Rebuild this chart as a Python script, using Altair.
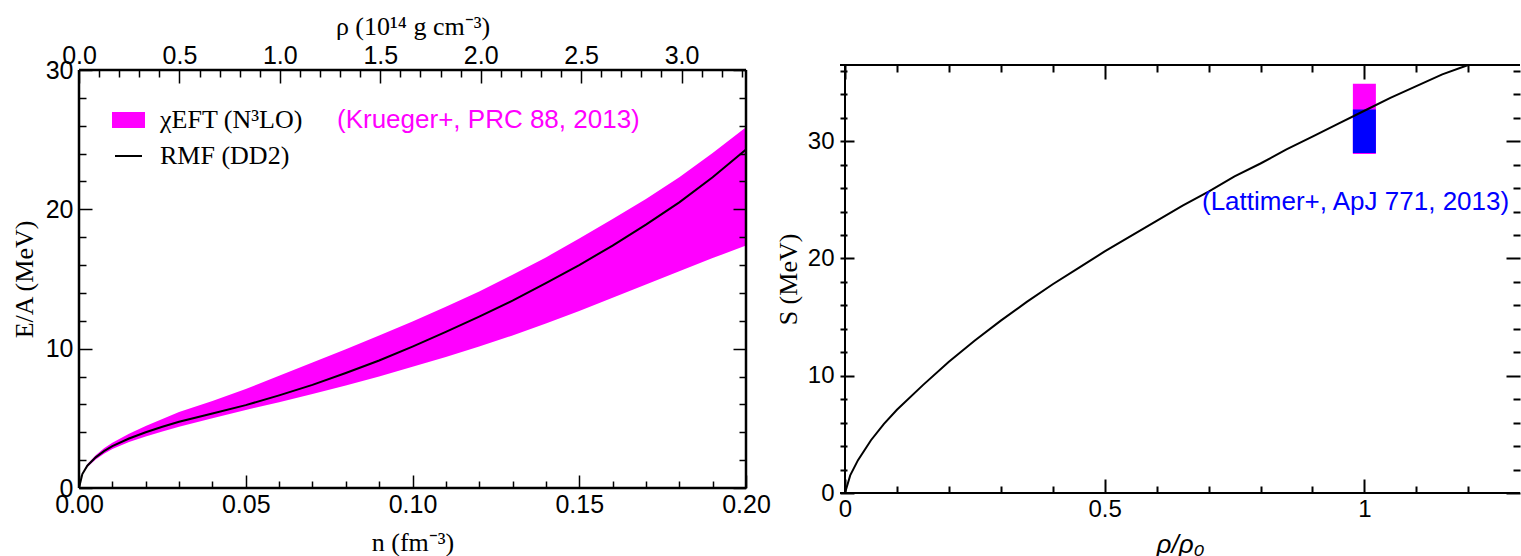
import altair as alt
import pandas as pd

MAGENTA = "#ff00ff"
BLUE = "#0000ff"
SERIF = "Liberation Serif, Times New Roman, serif"
SANS = "Liberation Sans, Arial, Helvetica, sans-serif"

# Pure neutron matter: energy per nucleon (MeV) vs baryon density n (fm^-3)
n_fm3 = [0.0, 0.001, 0.0025, 0.005, 0.0075, 0.01, 0.015, 0.02, 0.025, 0.03,
         0.04, 0.05, 0.06, 0.07, 0.08, 0.09, 0.10, 0.11, 0.12, 0.13,
         0.14, 0.15, 0.16, 0.17, 0.18, 0.19, 0.20]
ea_rmf_dd2 = [0.0, 1.0, 1.6, 2.2, 2.65, 3.0, 3.55, 4.0, 4.4, 4.75,
              5.35, 5.95, 6.65, 7.4, 8.25, 9.15, 10.15, 11.2, 12.3, 13.45,
              14.7, 16.0, 17.4, 18.9, 20.5, 22.3, 24.3]
ea_chieft_low = [0.0, 0.95, 1.5, 2.05, 2.45, 2.8, 3.3, 3.7, 4.05, 4.4,
                 5.0, 5.6, 6.15, 6.75, 7.35, 8.0, 8.7, 9.4, 10.15, 10.95,
                 11.8, 12.7, 13.65, 14.6, 15.55, 16.5, 17.4]
ea_chieft_high = [0.0, 1.05, 1.7, 2.35, 2.85, 3.25, 3.9, 4.45, 4.95, 5.45,
                  6.25, 7.1, 8.05, 9.0, 9.95, 10.95, 11.95, 13.0, 14.1, 15.3,
                  16.55, 17.9, 19.3, 20.75, 22.3, 24.05, 25.9]

# Symmetry energy S (MeV) vs rho/rho0 for RMF (DD2)
rho_ratio = [0.0, 0.01, 0.025, 0.05, 0.075, 0.1, 0.15, 0.2, 0.25, 0.3,
             0.35, 0.4, 0.45, 0.5, 0.55, 0.6, 0.65, 0.7, 0.75, 0.8,
             0.85, 0.9, 0.95, 1.0, 1.05, 1.1, 1.15, 1.2]
s_rmf_dd2 = [0.0, 1.5, 2.8, 4.5, 5.9, 7.1, 9.2, 11.2, 13.0, 14.7,
             16.3, 17.8, 19.2, 20.6, 21.9, 23.2, 24.5, 25.7, 27.0, 28.1,
             29.3, 30.4, 31.5, 32.6, 33.7, 34.7, 35.7, 36.5]

# Constraints on S at saturation density
constraint_at = [1.0, 1.0]
constraint_low = [28.9, 29.0]
constraint_high = [34.9, 32.7]
constraint_color = [MAGENTA, BLUE]

legend_labels = ["χEFT (N³LO)", "RMF (DD2)"]
krueger_ref = "(Krueger+, PRC 88, 2013)"
lattimer_ref = "(Lattimer+, ApJ 771, 2013)"

# mass density in 10^14 g cm^-3 per fm^-3 (one atomic mass unit)
RHO_PER_N = 16.605

W1, H1 = 667, 418
W2, H2 = 680, 428


def steps(start, stop, step):
    k = int(round((stop - start) / step))
    return [round(start + i * step, 6) for i in range(k + 1)]


def minor_of(all_vals, majors):
    return [v for v in all_vals if all(abs(v - m) > 1e-9 for m in majors)]


def axis(orient, values, length, width, title=None, **extra):
    opts = dict(orient=orient, values=values, tickSize=length, offset=-length,
                tickWidth=width, tickColor="black", domain=False, grid=False,
                labels=False, minExtent=0, zindex=2, title=title)
    opts.update(extra)
    return alt.Axis(**opts)


def labelled(font, size, padding, **extra):
    d = dict(labels=True, labelFont=font, labelFontSize=size, labelColor="black",
             labelPadding=padding, labelFlush=False, labelOverlap=False,
             titleColor="black", titleFontWeight="normal",
             titleAlign="center", titleBaseline="middle")
    d.update(extra)
    return d


one = pd.DataFrame({"k": [0]})

# ------------------------------------------------------------------ left panel
eos = pd.DataFrame({"n": n_fm3, "e": ea_rmf_dd2,
                    "lo": ea_chieft_low, "hi": ea_chieft_high})
X1 = alt.Scale(domain=[0, 0.2], nice=False, zero=False)
Y1 = alt.Scale(domain=[0, 30], nice=False, zero=False)

bx_major = [0, 0.05, 0.1, 0.15, 0.2]
bx_minor = minor_of(steps(0, 0.2, 0.01), bx_major)
ly_major = [0, 10, 20, 30]
ly_minor = minor_of(steps(0, 30, 2), ly_major)
rho_major = steps(0, 3.0, 0.5)
rho_minor = minor_of(steps(0, 3.3, 0.1), rho_major)
tx_major = [r / RHO_PER_N for r in rho_major]
tx_minor = [r / RHO_PER_N for r in rho_minor]

L_MAJ, L_MIN, L_TW = 13, 7, 1.5

band = alt.Chart(eos).mark_area(color=MAGENTA, opacity=1).encode(
    x=alt.X("n:Q", scale=X1, axis=axis(
        "bottom", bx_major, L_MAJ, L_TW, title="n (fm⁻³)",
        format=".2f", titleFont=SERIF, titleFontSize=26,
        titleX=W1 / 2, titleY=67, **labelled(SANS, 25, 4))),
    y=alt.Y("lo:Q", scale=Y1, axis=axis(
        "left", ly_major, L_MAJ, L_TW, title="E/A (MeV)",
        format="d", titleFont=SERIF, titleFontSize=26,
        titleX=-68, titleY=H1 / 2, titleAngle=270, **labelled(SANS, 25, 6))),
    y2="hi:Q",
)

rmf_line = alt.Chart(eos).mark_line(color="black", strokeWidth=2).encode(
    x=alt.X("n:Q", scale=X1, axis=axis("bottom", bx_minor, L_MIN, L_TW)),
    y=alt.Y("e:Q", scale=Y1, axis=axis("left", ly_minor, L_MIN, L_TW)),
)

top_right_major = alt.Chart(eos).mark_line(opacity=0).encode(
    x=alt.X("n:Q", scale=X1, axis=axis(
        "top", tx_major, L_MAJ, L_TW, title="ρ (10¹⁴ g cm⁻³)",
        labelExpr=f"format(datum.value * {RHO_PER_N}, '.1f')",
        titleFont=SERIF, titleFontSize=26, titleX=W1 / 2, titleY=-57,
        **labelled(SANS, 25, 2))),
    y=alt.Y("e:Q", scale=Y1, axis=axis("right", ly_major, L_MAJ, L_TW)),
)

top_right_minor = alt.Chart(eos).mark_line(opacity=0).encode(
    x=alt.X("n:Q", scale=X1, axis=axis("top", tx_minor, L_MIN, L_TW)),
    y=alt.Y("e:Q", scale=Y1, axis=axis("right", ly_minor, L_MIN, L_TW)),
)

frame1_h = alt.Chart(pd.DataFrame({"v": [0, 30]})).mark_rule(
    color="black", strokeWidth=2.5).encode(y=alt.Y("v:Q", scale=Y1, axis=None))
frame1_v = alt.Chart(pd.DataFrame({"v": [0, 0.2]})).mark_rule(
    color="black", strokeWidth=2.5).encode(x=alt.X("v:Q", scale=X1, axis=None))

swatch = alt.Chart(one).mark_rect(color=MAGENTA).encode(
    x=alt.value(33), x2=alt.value(66), y=alt.value(42), y2=alt.value(58))
swatch_line = alt.Chart(one).mark_rule(color="black", strokeWidth=2).encode(
    x=alt.value(36), x2=alt.value(63), y=alt.value(86))
legend_eft = alt.Chart(pd.DataFrame({"t": [legend_labels[0]]})).mark_text(
    align="left", baseline="alphabetic", font=SERIF, fontSize=26, color="black"
).encode(x=alt.value(81), y=alt.value(58), text="t:N")
legend_rmf = alt.Chart(pd.DataFrame({"t": [legend_labels[1]]})).mark_text(
    align="left", baseline="alphabetic", font=SERIF, fontSize=26, color="black"
).encode(x=alt.value(81), y=alt.value(94), text="t:N")
krueger = alt.Chart(pd.DataFrame({"t": [krueger_ref]})).mark_text(
    align="left", baseline="alphabetic", font=SANS, fontSize=26, color=MAGENTA
).encode(x=alt.value(258), y=alt.value(58), text="t:N")

left = alt.layer(
    band, rmf_line, top_right_major, top_right_minor, frame1_h, frame1_v,
    swatch, swatch_line, legend_eft, legend_rmf, krueger,
).resolve_axis(x="independent", y="independent").properties(width=W1, height=H1)

# ----------------------------------------------------------------- right panel
sym = pd.DataFrame({"r": rho_ratio, "s": s_rmf_dd2})
bars = pd.DataFrame({"r": constraint_at, "lo": constraint_low,
                     "hi": constraint_high, "c": constraint_color})
X2 = alt.Scale(domain=[0, 1.29], nice=False, zero=False)
Y2 = alt.Scale(domain=[0, 36.5], nice=False, zero=False)

rx_major = [0, 0.5, 1.0]
rx_minor = minor_of(steps(0, 1.2, 0.1), rx_major)
ry_major = [0, 10, 20, 30]
ry_minor = minor_of(steps(0, 36, 2), ry_major)

R_MAJ, R_MIN, R_TW = 14, 7, 2

s_line = alt.Chart(sym).mark_line(color="black", strokeWidth=2).encode(
    x=alt.X("r:Q", scale=X2, axis=axis(
        "bottom", rx_major, R_MAJ, R_TW, title="ρ/ρ₀", format="~g",
        titleFont=SANS, titleFontSize=26, titleFontStyle="italic",
        titleX=W2 / 2, titleY=65, **labelled(SANS, 24, 4))),
    y=alt.Y("s:Q", scale=Y2, axis=axis(
        "left", ry_major, R_MAJ, R_TW, title="S (MeV)", format="d",
        titleFont=SERIF, titleFontSize=26, titleX=-66, titleY=H2 / 2,
        titleAngle=270, **labelled(SANS, 24, 6))),
)

constraint = alt.Chart(bars).mark_bar(size=23).encode(
    x=alt.X("r:Q", scale=X2, axis=axis("bottom", rx_minor, R_MIN, R_TW)),
    y=alt.Y("lo:Q", scale=Y2, axis=axis("left", ry_minor, R_MIN, R_TW)),
    y2="hi:Q",
    color=alt.Color("c:N", scale=None),
)

r_ghost_major = alt.Chart(sym).mark_line(opacity=0).encode(
    x=alt.X("r:Q", scale=X2, axis=axis("top", rx_major, R_MAJ, R_TW)),
    y=alt.Y("s:Q", scale=Y2, axis=axis("right", ry_major, R_MAJ, R_TW)),
)
r_ghost_minor = alt.Chart(sym).mark_line(opacity=0).encode(
    x=alt.X("r:Q", scale=X2, axis=axis("top", rx_minor, R_MIN, R_TW)),
    y=alt.Y("s:Q", scale=Y2, axis=axis("right", ry_minor, R_MIN, R_TW)),
)

frame2_h = alt.Chart(pd.DataFrame({"v": [0, 36.5]})).mark_rule(
    color="black", strokeWidth=2).encode(y=alt.Y("v:Q", scale=Y2, axis=None))
frame2_v = alt.Chart(pd.DataFrame({"v": [0]})).mark_rule(
    color="black", strokeWidth=2).encode(x=alt.X("v:Q", scale=X2, axis=None))

lattimer = alt.Chart(pd.DataFrame({"t": [lattimer_ref]})).mark_text(
    align="left", baseline="middle", font=SANS, fontSize=26, color=BLUE
).encode(x=alt.value(362), y=alt.value(137), text="t:N")

right = alt.layer(
    constraint, s_line, r_ghost_major, r_ghost_minor, frame2_h, frame2_v, lattimer,
).resolve_axis(x="independent", y="independent").properties(width=W2, height=H2)

chart = alt.hconcat(left, right, spacing=94, bounds="flush", center=True).properties(
    padding={"left": 11, "top": 13, "right": 0, "bottom": 0},
    background="white",
).configure_view(stroke=None)

chart.save("out.html", embed_options={"renderer": "svg", "actions": False})
